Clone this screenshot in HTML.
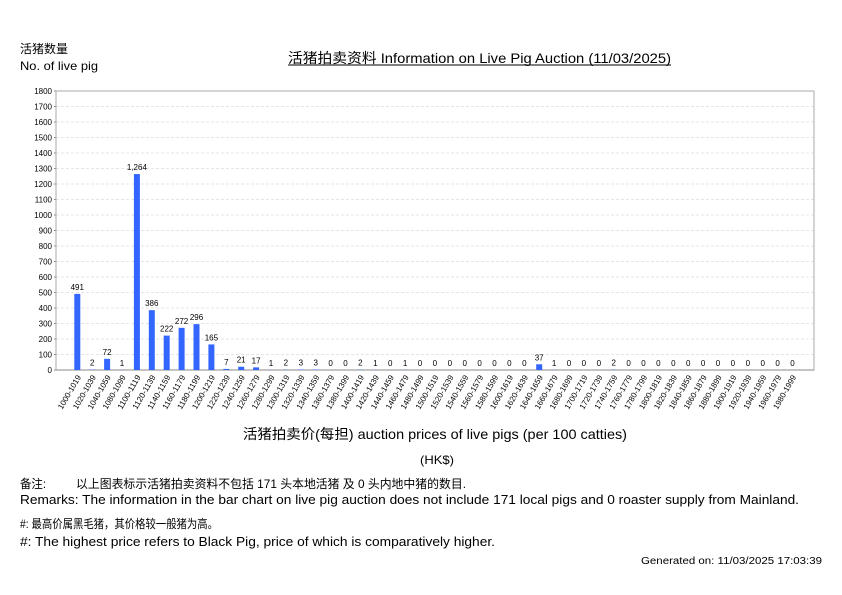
<!DOCTYPE html>
<html><head><meta charset="utf-8"><style>
body{margin:0;background:#fff}
svg{display:block}
text{font-family:"Liberation Sans","Noto Sans CJK SC",sans-serif;fill:#000}
</style></head><body>
<svg width="842" height="595" xmlns="http://www.w3.org/2000/svg" id="s">
<text x="20" y="53" font-size="12" textLength="48" lengthAdjust="spacingAndGlyphs">活猪数量</text>
<text x="20" y="70" font-size="12" textLength="78" lengthAdjust="spacingAndGlyphs">No. of live pig</text>
<text x="288" y="63" font-size="14" textLength="383" lengthAdjust="spacingAndGlyphs">活猪拍卖资料 Information on Live Pig Auction (11/03/2025)</text>
<line x1="288" y1="65" x2="671" y2="65" stroke="#000" stroke-width="1"/>
<g id="g"></g>
<text x="243" y="439" font-size="14" textLength="384" lengthAdjust="spacingAndGlyphs">活猪拍卖价(每担) auction prices of live pigs (per 100 catties)</text>
<text x="420" y="464" font-size="12" textLength="34" lengthAdjust="spacingAndGlyphs">(HK$)</text>
<text x="20" y="488" font-size="12" textLength="26" lengthAdjust="spacingAndGlyphs">备注:</text>
<text x="76" y="488" font-size="12" textLength="390" lengthAdjust="spacingAndGlyphs">以上图表标示活猪拍卖资料不包括 171 头本地活猪 及 0 头内地中猪的数目.</text>
<text x="20" y="504" font-size="13" textLength="779" lengthAdjust="spacingAndGlyphs">Remarks: The information in the bar chart on live pig auction does not include 171 local pigs and 0 roaster supply from Mainland.</text>
<text x="20" y="528" font-size="12" textLength="198" lengthAdjust="spacingAndGlyphs">#: 最高价属黑毛猪，其价格较一般猪为高。</text>
<text x="20" y="546" font-size="13" textLength="475" lengthAdjust="spacingAndGlyphs">#: The highest price refers to Black Pig, price of which is comparatively higher.</text>
<text x="641" y="564" font-size="10" textLength="181" lengthAdjust="spacingAndGlyphs">Generated on: 11/03/2025 17:03:39</text>
</svg>
<script>
var vals=[491,2,72,1,1264,386,222,272,296,165,7,21,17,1,2,3,3,0,0,2,1,0,1,0,0,0,0,0,0,0,0,37,1,0,0,0,2,0,0,0,0,0,0,0,0,0,0,0,0];
var labs=["1000-1019","1020-1039","1040-1059","1080-1099"];
for(var p=1100;p<=1980;p+=20)labs.push(p+"-"+(p+19));
var h='';var y0=370,sc=279/1800,L=56,R=814,T=91;
for(var v=0;v<=1800;v+=100){var y=y0-v*sc;
 if(v>0&&v<1800)h+='<line x1="'+L+'" x2="'+R+'" y1="'+y+'" y2="'+y+'" stroke="#ddd" stroke-dasharray="3,2" stroke-width="0.8"/>';
 h+='<text x="'+(L-4)+'" y="'+(y+3)+'" font-size="8" text-anchor="end">'+v+'</text>';
 h+='<line x1="'+(L-2)+'" x2="'+L+'" y1="'+y+'" y2="'+y+'" stroke="#888"/>';}
h+='<rect x="'+L+'" y="'+T+'" width="'+(R-L)+'" height="'+(y0-T)+'" fill="none" stroke="#aaa"/>';
h+='<line x1="'+L+'" x2="'+R+'" y1="'+y0+'" y2="'+y0+'" stroke="#888"/>';
for(var i=0;i<vals.length;i++){var cx=77.3+i*14.9,v=vals[i],bh=v*sc;
 if(v>0)h+='<rect x="'+(cx-3)+'" y="'+(y0-bh)+'" width="6" height="'+bh+'" fill="#3366ff"/>';
 var t=v>=1000?(Math.floor(v/1000)+','+String(v%1000).padStart(3,'0')):v;
 h+='<text x="'+cx+'" y="'+(y0-bh-4)+'" font-size="8" text-anchor="middle">'+t+'</text>';
 h+='<text transform="translate('+(cx+4)+',377) rotate(-60)" font-size="8" text-anchor="end" textLength="38" lengthAdjust="spacingAndGlyphs">'+labs[i]+'</text>';}
document.getElementById('g').innerHTML=h;
</script>
</body></html>
